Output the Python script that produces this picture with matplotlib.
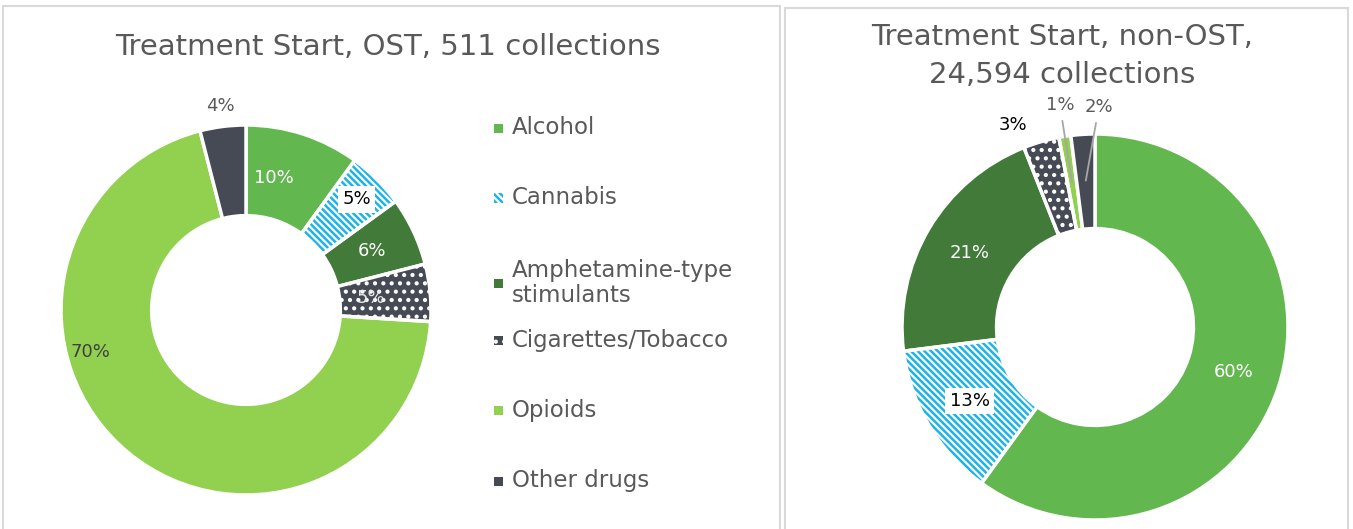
import numpy as np
import matplotlib.pyplot as plt
from matplotlib.patches import Rectangle, Wedge

plt.rcParams['font.family'] = ['DejaVu Sans']
plt.rcParams['hatch.linewidth'] = 1.8

# data
categories = ['Alcohol', 'Cannabis', 'Amphetamine-type\nstimulants',
              'Cigarettes/Tobacco', 'Opioids', 'Other drugs']
ost_values = [10, 5, 6, 5, 70, 4]
non_ost_values = [60, 13, 21, 3, 1, 2]
ost_title = 'Treatment Start, OST, 511 collections'
non_ost_title = 'Treatment Start, non-OST,\n24,594 collections'

colors = ['#62B74E', '#FFFFFF', '#427A3A', '#454A54', '#92D04F', '#454A54']
hatches = [None, '\\\\\\\\\\', None, '..', None, None]
hatch_colors = [None, '#1DB3E6', None, '#FFFFFF', None, None]

W, H = 1353, 529
TXT = '#595959'

fig = plt.figure(figsize=(W / 100, H / 100), dpi=100)


def px_axes(cx, cy, r):
    return fig.add_axes([(cx - r) / W, 1 - (cy + r) / H, 2 * r / W, 2 * r / H])


def polar(r, ang):
    a = np.radians(ang)
    return r * np.cos(a), r * np.sin(a)


def donut(ax, values, specs):
    wedges, _ = ax.pie(values, colors=colors, startangle=90, counterclock=False,
                       radius=1, wedgeprops=dict(width=0.49, edgecolor='white', linewidth=2.5))
    for w, h, hc in zip(wedges, hatches, hatch_colors):
        if h:
            w.set_hatch(h)
            w.set_edgecolor(hc)
            w.set_linewidth(0)
            ax.add_patch(Wedge(w.center, w.r, w.theta1, w.theta2, width=w.width,
                               facecolor='none', edgecolor='white', linewidth=2.5))
    for w, v, s in zip(wedges, values, specs):
        r, ang, col, boxed, leader = s
        mid = (w.theta1 + w.theta2) / 2
        if ang is None:
            ang = mid
        x, y = polar(r, ang)
        bbox = dict(facecolor='white', edgecolor='none', pad=3) if boxed else None
        if leader:
            ax.annotate(f'{v}%', xy=polar(0.76, mid), xytext=(x, y), ha='center', va='center',
                        fontsize=13, color=col,
                        arrowprops=dict(arrowstyle='-', color='#A6A6A6', lw=1.3, shrinkA=3, shrinkB=0))
        else:
            ax.text(x, y, f'{v}%', ha='center', va='center', fontsize=13, color=col, bbox=bbox)
    ax.set_xlim(-1, 1)
    ax.set_ylim(-1, 1)


# panel frames
fig.add_artist(Rectangle((3 / W, -0.05), 777 / W, 1.05 - 6 / H, transform=fig.transFigure,
                         fill=False, edgecolor='#D9D9D9', lw=1.5))
fig.add_artist(Rectangle((785 / W, -0.05), 563 / W, 1.05 - 8 / H, transform=fig.transFigure,
                         fill=False, edgecolor='#D9D9D9', lw=1.5))

# left chart
ax1 = px_axes(246, 310, 185)
ost_specs = [(0.73, 78, 'white', False, False),
             (0.845, None, 'black', True, False),
             (0.755, None, 'white', False, False),
             (0.68, None, '#E8E8E8', False, False),
             (0.87, 195, '#404040', False, False),
             (1.11, None, TXT, False, False)]
donut(ax1, ost_values, ost_specs)
fig.text(388 / W, 1 - 47 / H, ost_title, ha='center', va='center', fontsize=21, color=TXT)

# right chart
ax2 = px_axes(1095, 327, 193)
non_ost_specs = [(0.755, None, 'white', False, False),
                 (0.755, None, 'black', True, False),
                 (0.755, None, 'white', False, False),
                 (1.13, 112, 'black', False, False),
                 (1.165, 99, TXT, False, True),
                 (1.14, 89, TXT, False, True)]
donut(ax2, non_ost_values, non_ost_specs)
fig.text(1062 / W, 1 - 56 / H, non_ost_title, ha='center', va='center', fontsize=21,
         color=TXT, linespacing=1.5)

# legend
leg_y = [128, 198, 283, 340, 410, 481]
for cat, c, h, hc, y in zip(categories, colors, hatches, hatch_colors, leg_y):
    fig.add_artist(Rectangle((494 / W, 1 - (y + 4.5) / H), 9 / W, 9 / H, transform=fig.transFigure,
                             facecolor=c, hatch=h, edgecolor=hc if hc else c, lw=0))
    fig.text(512 / W, 1 - y / H, cat, ha='left', va='center', fontsize=16.5, color=TXT,
             linespacing=1.1)

fig.savefig('out.png', dpi=100)
